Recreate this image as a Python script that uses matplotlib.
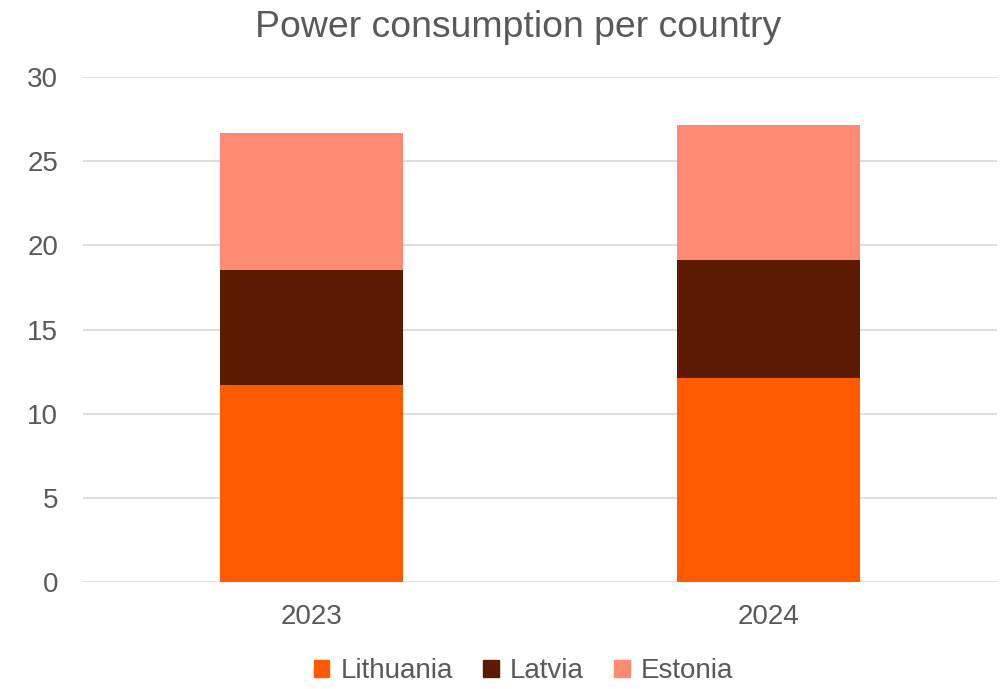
import numpy as np
import matplotlib.pyplot as plt
from matplotlib.patches import Patch

plt.rcParams['font.family'] = ['Liberation Sans', 'DejaVu Sans']

# Power consumption per country (stacked)
years = ['2023', '2024']
lithuania = [11.7, 12.14]
latvia = [6.85, 6.97]
estonia = [8.14, 8.01]

colors = {'Lithuania': '#FF5A00', 'Latvia': '#5C1A00', 'Estonia': '#FF8A73'}
text_color = '#595959'

fig = plt.figure(figsize=(10.05, 6.89), dpi=100)
ax = fig.add_axes([83.3 / 1005, (689 - 582) / 689, (996.7 - 83.3) / 1005, (582 - 77) / 689])

x = np.arange(len(years))
w = 0.40
ax.bar(x, lithuania, w, color=colors['Lithuania'], zorder=3)
ax.bar(x, latvia, w, bottom=lithuania, color=colors['Latvia'], zorder=3)
bottom2 = np.array(lithuania) + np.array(latvia)
ax.bar(x, estonia, w, bottom=bottom2, color=colors['Estonia'], zorder=3)

ax.set_xlim(-0.5, 1.5)
ax.set_ylim(0, 30)
ax.set_yticks(range(0, 31, 5))
ax.set_xticks(x)
ax.set_xticklabels(years)
ax.grid(axis='y', color='#D9D9D9', linewidth=1.3, zorder=0)
for s in ax.spines.values():
    s.set_visible(False)
ax.tick_params(axis='both', length=0, labelsize=20, labelcolor=text_color)
ax.tick_params(axis='y', pad=18)
ax.tick_params(axis='x', pad=16)

fig.suptitle('Power consumption per country', fontsize=26.9, color=text_color,
             x=518 / 1005, y=0.985)

handles = [Patch(color=c, label=k) for k, c in colors.items()]
fig.legend(handles=handles, loc='center', bbox_to_anchor=(0.521, 1 - 671 / 689), ncol=3,
           frameon=False, fontsize=20, labelcolor=text_color, handlelength=0.55,
           handleheight=0.55, handletextpad=0.4, columnspacing=1.1)

fig.savefig('out.png', dpi=100)
